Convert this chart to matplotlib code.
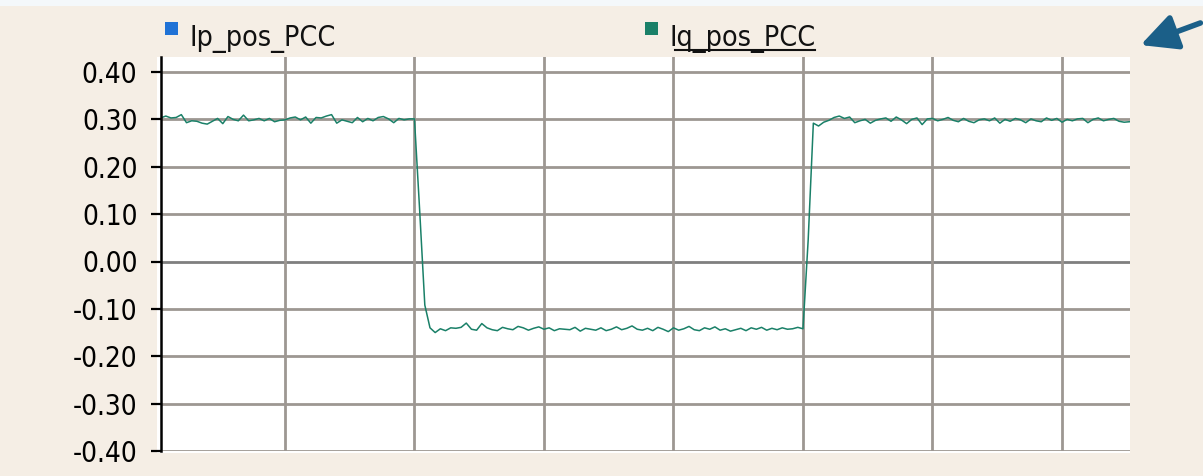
import numpy as np
import matplotlib
matplotlib.use("Agg")
import matplotlib.pyplot as plt
from matplotlib.patches import Rectangle, FancyArrowPatch
from matplotlib.lines import Line2D

# series names shown in the legend strip
series_names = ["Ip_pos_PCC", "Iq_pos_PCC"]
series_colors = ["#1f72d6", "#1a8068"]

# y axis ticks
y_ticks = [-0.40, -0.30, -0.20, -0.10, 0.00, 0.10, 0.20, 0.30, 0.40]
# vertical grid divisions (time axis, no labels shown)
x_grid = [1, 2, 3, 4, 5, 6, 7]

# Iq_pos_PCC samples, one every 0.04 time units starting at 0.04
iq_high_1 = [0.303, 0.307, 0.303, 0.304, 0.310, 0.293, 0.297, 0.296, 0.292, 0.290,
             0.296, 0.302, 0.291, 0.306, 0.300, 0.297, 0.309, 0.297, 0.299, 0.302,
             0.297, 0.302, 0.295, 0.298, 0.299, 0.303, 0.305, 0.299, 0.305, 0.292,
             0.304, 0.303, 0.307, 0.310, 0.292, 0.299, 0.296, 0.293, 0.304, 0.295,
             0.302, 0.297, 0.304, 0.306, 0.301, 0.293, 0.302, 0.299, 0.301, 0.301]
iq_drop = [0.109, -0.092, -0.140]
iq_low = [-0.150, -0.142, -0.146, -0.140, -0.141, -0.139, -0.130, -0.143, -0.145, -0.131,
          -0.140, -0.144, -0.146, -0.139, -0.142, -0.144, -0.137, -0.140, -0.145, -0.141,
          -0.138, -0.143, -0.140, -0.146, -0.142, -0.143, -0.144, -0.139, -0.147, -0.141,
          -0.143, -0.145, -0.140, -0.146, -0.143, -0.138, -0.144, -0.141, -0.136, -0.143,
          -0.145, -0.141, -0.146, -0.139, -0.143, -0.148, -0.140, -0.145, -0.142, -0.137,
          -0.144, -0.146, -0.140, -0.143, -0.138, -0.145, -0.142, -0.147, -0.144, -0.141,
          -0.146, -0.140, -0.143, -0.139, -0.145, -0.141, -0.144, -0.140, -0.143, -0.142,
          -0.139, -0.142]
iq_rise = [0.045, 0.292]
iq_high_2 = [0.286, 0.294, 0.298, 0.304, 0.307, 0.302, 0.305, 0.293, 0.297, 0.300,
             0.292, 0.298, 0.301, 0.303, 0.296, 0.305, 0.299, 0.291, 0.300, 0.303,
             0.289, 0.301, 0.302, 0.297, 0.300, 0.304, 0.298, 0.295, 0.302, 0.296,
             0.293, 0.299, 0.301, 0.297, 0.303, 0.292, 0.300, 0.296, 0.302, 0.299,
             0.293, 0.301, 0.297, 0.295, 0.303, 0.298, 0.302, 0.294, 0.300, 0.297,
             0.301, 0.302, 0.293, 0.300, 0.303, 0.297, 0.300, 0.302, 0.296, 0.294,
             0.295]

iq_values = iq_high_1 + iq_drop + iq_low + iq_rise + iq_high_2
dt = 0.04
t = dt + dt * np.arange(len(iq_values))

W, H = 1203, 476
fig = plt.figure(figsize=(W / 100, H / 100), dpi=100)
fig.patch.set_facecolor("#f5eee5")

# light strip at the very top and the white plotting panel
fig.patches.append(Rectangle((0, 1 - 6 / H), 1, 6 / H, transform=fig.transFigure,
                             facecolor="#f4f8fb", edgecolor="none", zorder=0))
fig.patches.append(Rectangle((157 / W, (H - 453) / H), (1130 - 157) / W, (453 - 57) / H,
                             transform=fig.transFigure, facecolor="white",
                             edgecolor="none", zorder=0))

ax = fig.add_axes([161 / W, (H - 451) / H, (1130 - 161) / W, (451 - 57) / H])
ax.set_zorder(2)
ax.set_facecolor("none")
ax.plot(t, iq_values, color=series_colors[1], lw=1.1, zorder=3)

ax.set_xlim(0.043, 7.525)
ax.set_ylim(-0.40, 0.40 + 15 / 473.75)
ax.set_yticks(y_ticks)
ax.set_yticklabels([f"{v:.2f}" for v in y_ticks])
ax.set_xticks(x_grid)
ax.tick_params(axis="x", length=0, labelbottom=False)
ax.tick_params(axis="y", length=7, width=1.6, pad=10, labelsize=20)
for lab in ax.get_yticklabels():
    lab.set_fontstretch("condensed")

for v in y_ticks:
    ax.axhline(v, color="#7f7f7f" if v == 0 else "#9d9792", lw=2.0, zorder=1)
for v in x_grid:
    ax.axvline(v, color="#9d9792", lw=2.0, zorder=1)

for s in ["top", "right", "bottom"]:
    ax.spines[s].set_visible(False)
ax.spines["left"].set_linewidth(1.8)
ax.spines["left"].set_zorder(4)

# legend strip
leg_x = [165, 645]
for name, col, x0 in zip(series_names, series_colors, leg_x):
    fig.patches.append(Rectangle((x0 / W, 1 - 35 / H), 13 / W, 13 / H,
                                 transform=fig.transFigure, facecolor=col,
                                 edgecolor="none"))
    fig.text((x0 + 25) / W, 1 - 46 / H, name, fontsize=20.5, fontstretch="condensed",
             va="baseline", ha="left", color="#111111")
fig.lines.append(Line2D([675 / W, 815 / W], [1 - 50 / H, 1 - 50 / H],
                        transform=fig.transFigure, color="#111111", lw=1.5))

# arrow pointing at the legend
fig.patches.append(FancyArrowPatch((1203 / W, 1 - 22 / H), (1138 / W, 1 - 46 / H),
                                   transform=fig.transFigure,
                                   arrowstyle="-|>,head_length=22,head_width=11",
                                   lw=4, color="#1b5f88", mutation_scale=1))

fig.savefig("out.png", dpi=100, facecolor=fig.get_facecolor())
